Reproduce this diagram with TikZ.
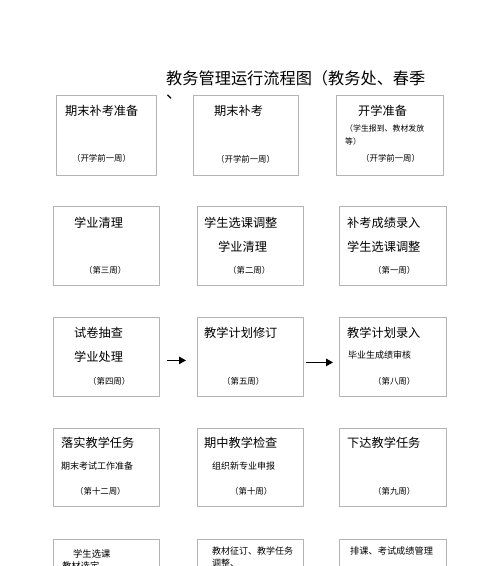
\documentclass[tikz,border=0pt]{standalone}
\usepackage{fontspec}
\setmainfont{Noto Sans CJK SC}
\usetikzlibrary{arrows.meta}
\definecolor{boxgray}{HTML}{B4B4B4}
\def\big{\fontsize{12.2}{14}\selectfont}
\def\mid{\fontsize{9}{11}\selectfont}
\def\wk{\fontsize{8.4}{10}\selectfont}

\begin{document}
\begin{tikzpicture}[x=1pt,y=-1pt,
  every node/.style={inner sep=0pt,anchor=west},
  box/.style={draw=boxgray,line width=0.8pt,anchor=north west},
  flow/.style={line width=1.2pt,-{Triangle[length=7pt,width=7.5pt]}}]
\useasboundingbox (0,0) rectangle (500,566);
\clip (0,0) rectangle (500,566);

\node[font=\fontsize{16.2}{18}\selectfont] (title) at (166,78) {教务管理运行流程图（教务处、春季};
\node[font=\fontsize{16.2}{18}\selectfont] (titlerest) at (166,97) {、};

% row 1
\node[box,minimum width=100pt,minimum height=80pt] (b11) at (56,95) {};
\node[font=\big] (t11) at (65,111) {期末补考准备};
\node[font=\wk] (w11) at (72,158) {（开学前一周）};
\node[box,minimum width=105pt,minimum height=80pt] (b12) at (193,95) {};
\node[font=\big] (t12) at (214,111) {期末补考};
\node[font=\wk] (w12) at (216,159) {（开学前一周）};
\node[box,minimum width=107pt,minimum height=80pt] (b13) at (336,95) {};
\node[font=\big] (t13) at (358,111) {开学准备};
\node[font=\fontsize{7.9}{9}\selectfont] (s13) at (345,128) {（学生报到、教材发放};
\node[font=\fontsize{7.9}{9}\selectfont] (u13) at (345,141) {等）};
\node[font=\wk] (w13) at (361,158) {（开学前一周）};

% row 2
\node[box,minimum width=106pt,minimum height=79pt] (b21) at (53,206) {};
\node[font=\big] (t21) at (74,223) {学业清理};
\node[font=\wk] (w21) at (84,270) {（第三周）};
\node[box,minimum width=106pt,minimum height=79pt] (b22) at (197,206) {};
\node[font=\big] (t22) at (204,223) {学生选课调整};
\node[font=\big] (s22) at (218,247) {学业清理};
\node[font=\wk] (w22) at (228,270) {（第二周）};
\node[box,minimum width=107pt,minimum height=79pt] (b23) at (339,206) {};
\node[font=\big] (t23) at (347,223) {补考成绩录入};
\node[font=\big] (s23) at (347,247) {学生选课调整};
\node[font=\wk] (w23) at (373,270) {（第一周）};

% row 3
\node[box,minimum width=106pt,minimum height=79pt] (b31) at (53,317) {};
\node[font=\big] (t31) at (74,333) {试卷抽查};
\node[font=\big] (s31) at (74,357) {学业处理};
\node[font=\wk] (w31) at (88,381) {（第四周）};
\node[box,minimum width=106pt,minimum height=79pt] (b32) at (197,317) {};
\node[font=\big] (t32) at (204,333) {教学计划修订};
\node[font=\wk] (w32) at (222,381) {（第五周）};
\node[box,minimum width=107pt,minimum height=79pt] (b33) at (339,317) {};
\node[font=\big] (t33) at (347,333) {教学计划录入};
\node[font=\mid] (s33) at (348,355) {毕业生成绩审核};
\node[font=\wk] (w33) at (373,381) {（第八周）};
\draw[flow,shorten <=7pt,shorten >=11pt] ([yshift=-3.5pt]b31.east) -- ([yshift=-3.5pt]b32.west);
\draw[flow,shorten <=2pt,shorten >=6pt] ([yshift=-5.5pt]b32.east) -- ([yshift=-5.5pt]b33.west);

% row 4
\node[box,minimum width=106pt,minimum height=78pt] (b41) at (53,428) {};
\node[font=\big] (t41) at (61,443) {落实教学任务};
\node[font=\mid] (s41) at (61,466) {期末考试工作准备};
\node[font=\wk] (w41) at (75,491) {（第十二周）};
\node[box,minimum width=106pt,minimum height=78pt] (b42) at (197,428) {};
\node[font=\big] (t42) at (204,443) {期中教学检查};
\node[font=\mid] (s42) at (212,466) {组织新专业申报};
\node[font=\wk] (w42) at (230,491) {（第十周）};
\node[box,minimum width=107pt,minimum height=78pt] (b43) at (339,428) {};
\node[font=\big] (t43) at (347,443) {下达教学任务};
\node[font=\wk] (w43) at (373,491) {（第九周）};

% row 5 (cut off)
\node[box,minimum width=106pt,minimum height=79pt] (b51) at (53,539) {};
\node[font=\fontsize{9.3}{11}\selectfont] (t51) at (73,554) {学生选课};
\node[font=\fontsize{9.3}{11}\selectfont] (s51) at (62,566) {教材选定};
\node[box,minimum width=106pt,minimum height=79pt] (b52) at (197,539) {};
\node[font=\mid] (t52) at (212,551) {教材征订、教学任务};
\node[font=\mid] (s52) at (212,563) {调整、};
\node[box,minimum width=107pt,minimum height=79pt] (b53) at (339,539) {};
\node[font=\fontsize{9.2}{11}\selectfont] (t53) at (350,551) {排课、考试成绩管理};
\end{tikzpicture}
\end{document}
